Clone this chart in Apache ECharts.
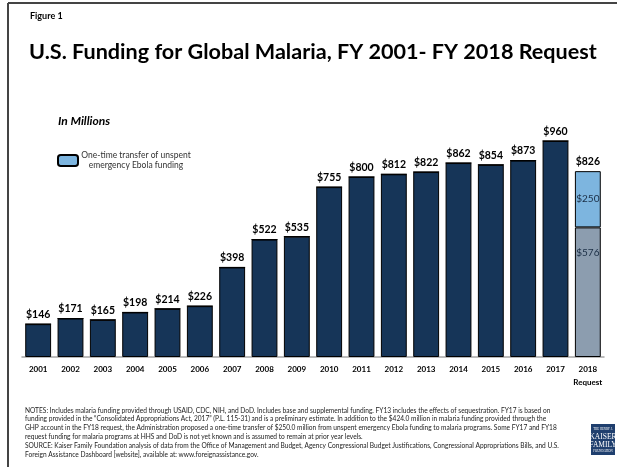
<!DOCTYPE html>
<html><head><meta charset="utf-8">
<script src="https://cdn.jsdelivr.net/npm/echarts@6/dist/echarts.min.js"></script>
<style>html,body{margin:0;padding:0;background:#fff}#c{width:617px;height:467px}</style>
</head><body><div id="c"></div>
<script>
var years = ['2001','2002','2003','2004','2005','2006','2007','2008','2009','2010','2011','2012','2013','2014','2015','2016','2017','2018\nRequest'];
var baseFunding = [146,171,165,198,214,226,398,522,535,755,800,812,822,862,854,873,960,576];
var ebolaTransfer = [0,0,0,0,0,0,0,0,0,0,0,0,0,0,0,0,0,250];
var totals = baseFunding.map(function(v,i){return v+ebolaTransfer[i];});
var zeros = years.map(function(){return 0;});

var F = 'Lato, "Open Sans", sans-serif';
var chart = echarts.init(document.getElementById('c'));
var notes = [
 'NOTES: Includes malaria funding provided through USAID, CDC, NIH, and DoD. Includes base and supplemental funding. FY13 includes the effects of sequestration. FY17 is based on',
 'funding provided in the \u201cConsolidated Appropriations Act, 2017\u201d (P.L. 115-31) and is a preliminary estimate. In addition to the $424.0 million in malaria funding provided through the',
 'GHP account in the FY18 request, the Administration proposed a one-time transfer of $250.0 million from unspent emergency Ebola funding to malaria programs. Some FY17 and FY18',
 'request funding for malaria programs at HHS and DoD is not yet known and is assumed to remain at prior year levels.',
 'SOURCE: Kaiser Family Foundation analysis of data from the Office of Management and Budget, Agency Congressional Budget Justifications, Congressional Appropriations Bills, and U.S.',
 'Foreign Assistance Dashboard [website], available at: www.foreignassistance.gov.'
];
var last = years.length - 1;
var baseData = baseFunding.map(function(v,i){
  if (i === last) return {value:v, itemStyle:{color:'#8C9DAF'}, label:{show:true, position:'insideTop', distance:20, fontWeight:'normal', fontSize:10, color:'#1a2d44', formatter:'${c}'}};
  return v;
});
chart.setOption({
  animation:false,
  grid:{left:22, right:13, top:132, bottom:110},
  title:[
    {text:'Figure 1', left:25, top:7, textStyle:{fontFamily:F, fontSize:9, fontWeight:'bold', color:'#000'}},
    {text:'U.S. Funding for Global Malaria, FY 2001- FY 2018 Request', left:24, top:36, textStyle:{fontFamily:F, fontSize:21.6, fontWeight:'bold', color:'#000'}},
    {text:'In Millions', left:53, top:110, textStyle:{fontFamily:F, fontSize:12, fontWeight:'bold', fontStyle:'italic', color:'#000'}}
  ],
  legend:{
    data:['One-time transfer of unspent emergency Ebola funding'],
    left:52, top:146, orient:'vertical', itemWidth:20, itemHeight:11, itemGap:4,
    formatter:function(){return '{a|One-time transfer of unspent}\n{a|emergency Ebola funding}';},
    textStyle:{fontFamily:F, fontSize:8.5, color:'#333', rich:{a:{fontFamily:F, fontSize:8.5, color:'#333', width:106, align:'center', lineHeight:10}}}
  },
  xAxis:{type:'category', data:years,
    axisLine:{lineStyle:{color:'#A6A6A6', width:1.5}}, axisTick:{show:false},
    axisLabel:{interval:0, fontFamily:F, fontSize:8, fontWeight:'bold', color:'#000', margin:6, lineHeight:13}},
  yAxis:{type:'value', min:0, max:1000, show:false, splitLine:{show:false}},
  series:[
    {name:'Base funding', type:'bar', stack:'s', data:baseData, barCategoryGap:'20%',
     itemStyle:{color:'#163558', borderColor:'#000', borderWidth:1},
     label:{show:true, position:'top', distance:4, fontFamily:F, fontSize:10.5, fontWeight:'bold', color:'#000',
       formatter:function(p){return p.dataIndex===last ? '' : '$'+p.value;}}},
    {name:'One-time transfer of unspent emergency Ebola funding', type:'bar', stack:'s', data:ebolaTransfer,
     itemStyle:{color:'#7DB5DF', borderColor:'#000', borderWidth:1},
     label:{show:true, position:'inside', fontFamily:F, fontSize:10, color:'#1a2d44',
       formatter:function(p){return p.value ? '$'+p.value : '';}}},
    {name:'Total', type:'bar', stack:'s', data:zeros, itemStyle:{color:'rgba(0,0,0,0)', borderWidth:0},
     label:{show:true, position:'top', distance:4, fontFamily:F, fontSize:10.5, fontWeight:'bold', color:'#000',
       formatter:function(p){return p.dataIndex===last ? '$'+totals[p.dataIndex] : '';}}}
  ],
  graphic:[
    {type:'line', shape:{x1:8,y1:3,x2:617,y2:3}, style:{stroke:'#444', lineWidth:2}},
    {type:'line', shape:{x1:8,y1:3,x2:8,y2:467}, style:{stroke:'#444', lineWidth:2}},
    {type:'text', left:25, top:406, style:{text:notes.join('\n'), fontFamily:F, fontSize:6.6, lineHeight:8.8, fill:'#222'}},
    {type:'rect', shape:{x:591,y:424,width:24,height:31}, style:{fill:'#1F3F6E'}},
    {type:'text', x:603, y:428, style:{text:'THE HENRY J.', fontSize:3, fill:'#fff', align:'center', fontFamily:'serif'}},
    {type:'text', x:603, y:433, style:{text:'KAISER', fontSize:7.5, fill:'#fff', align:'center', fontFamily:'Liberation Serif'}},
    {type:'text', x:603, y:441, style:{text:'FAMILY', fontSize:7.5, fill:'#fff', align:'center', fontFamily:'Liberation Serif'}},
    {type:'text', x:603, y:450, style:{text:'FOUNDATION', fontSize:3, fill:'#fff', align:'center', fontFamily:'serif'}}
  ]
});
</script></body></html>
